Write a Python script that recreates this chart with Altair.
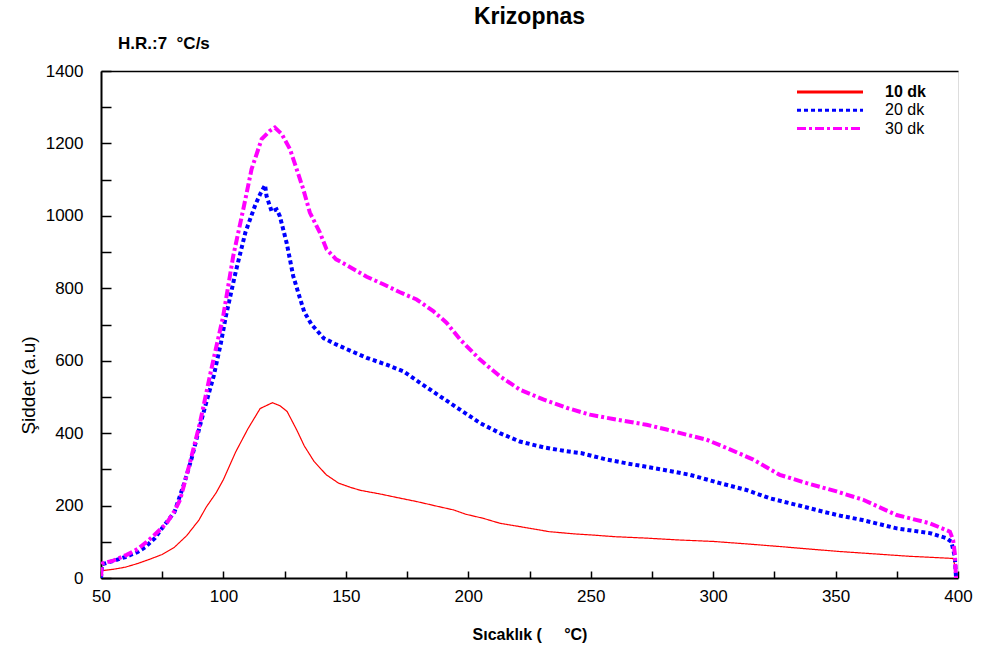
import altair as alt
import pandas as pd

F = "Liberation Sans"

series_names = ["10 dk", "20 dk", "30 dk"]
series_colors = ["#ff0000", "#0000ff", "#ff00ff"]
series_widths = [1.2, 4, 4]

x10 = [50, 55, 60, 65, 70, 75, 80, 85, 90, 93, 97, 100, 105, 110, 115, 120, 123, 126, 130, 133,
       137, 142, 147, 152, 156, 164, 171, 179, 188, 194, 199, 206, 213, 221, 227, 233, 243, 252,
       260, 273, 286, 300, 314, 327, 341, 352, 365, 380, 398, 400]
y10 = [20, 24, 30, 40, 52, 65, 85, 117, 160, 196, 235, 272, 348, 412, 468, 484, 476, 460, 408, 365,
       322, 285, 262, 250, 242, 232, 222, 211, 197, 188, 176, 165, 151, 142, 135, 128, 122, 118,
       114, 110, 105, 101, 94, 87, 79, 73, 67, 60, 54, 0]

x20 = [50, 50.5, 54, 60, 65, 68, 72, 75, 80, 84, 87, 90, 93, 96, 99, 101, 105, 109, 113, 115,
       117, 117.6, 119.7, 121.7, 123, 125.8, 128.5, 131, 133, 136, 141, 146, 149, 158.5, 166.6,
       173.4, 180.3, 188.4, 196.6, 204.8, 212.9, 221, 230.6, 240, 246, 256.5, 266, 279.6, 290.5,
       302.7, 313.6, 323.2, 334, 345, 352, 361, 375, 388.5, 395.3, 397.3, 398.7, 399.2]
y20 = [0, 38, 45, 58, 72, 85, 110, 138, 182, 262, 330, 410, 485, 557, 650, 723, 845, 955, 1030, 1060,
       1085, 1055, 1012, 1018, 1000, 926, 834, 778, 735, 700, 662, 645, 636, 608, 589,
       571, 539, 502, 465, 428, 400, 377, 361, 350, 345, 327, 315, 299, 285,
       262, 243, 220, 202, 183, 172, 160, 137, 124, 110, 100, 59, 0]

x30 = [50, 50.5, 55, 60.5, 65, 68.7, 72, 76.8, 80, 82.3, 86, 90.4, 95, 99.9, 104, 108.1, 111.5,
       115.6, 119, 121, 123.8, 127.2, 129.9, 132.6, 135.3, 139.4, 142.1, 146, 150, 158.5, 165.3,
       172.1, 178.9, 185.7, 191.1, 196.6, 204.8, 212.9, 221.1, 230.6, 240.1, 249.7, 259.2, 272.8,
       281, 289, 297.3, 305.5, 316.4, 327.2, 338.2, 350.4, 361.3, 374.9, 388.5, 396.7, 398, 398.7, 399.2]
y30 = [5, 40, 48, 64, 80, 100, 120, 151, 185, 216, 310, 428, 575, 723, 889, 1018, 1129,
       1212, 1235, 1244, 1226, 1184, 1129, 1074, 1009, 954, 908, 880, 865, 832, 811,
       789, 769, 737, 705, 659, 603, 557, 520, 493, 470, 451, 439, 423,
       410, 396, 382, 359, 327, 285, 262, 239, 216, 174, 151, 128, 105, 68, 0]

x_label_values = [50, 100, 150, 200, 250, 300, 350, 400]
x_tick_values = list(range(50, 401, 25))
y_label_values = [0, 200, 400, 600, 800, 1000, 1200, 1400]
y_tick_values = list(range(0, 1401, 100))

title_text = "Krizopnas"
subtitle_text = "H.R.:7 \u00a0°C/s"
x_title = "Sıcaklık (" + "\u00a0" * 5 + "°C)"
y_title = "Şiddet (a.u)"

rows = []
for name, xs, ys in zip(series_names, [x10, x20, x30], [y10, y20, y30]):
    for i, (a, b) in enumerate(zip(xs, ys)):
        rows.append({"series": name, "T": a, "I": b, "order": i})
df = pd.DataFrame(rows)

W, H = 857, 507

xscale = alt.Scale(domain=[50, 400], nice=False, zero=False)
yscale = alt.Scale(domain=[0, 1400], nice=False, zero=False)

legend = alt.Legend(
    title=None, orient="none", legendX=721, legendY=13, padding=0,
    symbolType="M-6,0H6", symbolSize=121, symbolStrokeWidth=3,
    labelFont=F, labelFontSize=16, labelColor="black", labelOffset=47,
    rowPadding=2.3,
    labelFontWeight=alt.ExprRef(expr="datum.label == '10 dk' ? 'bold' : 'normal'"),
)

color = alt.Color("series:N", scale=alt.Scale(domain=series_names, range=series_colors),
                  legend=legend)
dash = alt.StrokeDash("series:N", scale=alt.Scale(
    domain=series_names, range=[[1, 0], [4, 3], [9, 3, 3, 3]]), legend=legend)

x_axis = alt.Axis(
    values=x_label_values, ticks=False, tickSize=0, grid=False, labelFlush=False,
    domainColor="black", domainWidth=2,
    labelFont=F, labelFontSize=17, labelColor="black", labelPadding=10,
    title=x_title, titleFont=F, titleFontSize=16, titleFontWeight="bold",
    titleColor="black", titleX=W / 2, titleY=56, titleBaseline="middle",
    titleAlign="center")
y_axis = alt.Axis(
    values=y_label_values, format="d", ticks=False, tickSize=0, grid=False, labelFlush=False,
    domainColor="black", domainWidth=2,
    labelFont=F, labelFontSize=17, labelColor="black", labelPadding=18,
    title=y_title, titleFont=F, titleFontSize=19, titleFontWeight="normal",
    titleColor="black", titleX=-73, titleY=314, titleBaseline="middle",
    titleAlign="center", titleAngle=270)

layers = []
for k, (name, w) in enumerate(zip(series_names, series_widths)):
    enc = dict(
        x=alt.X("T:Q", scale=xscale, axis=x_axis if k == 0 else None),
        y=alt.Y("I:Q", scale=yscale, axis=y_axis if k == 0 else None),
        color=color, strokeDash=dash, order="order:Q",
    )
    layers.append(
        alt.Chart(df).transform_filter(alt.datum.series == name)
        .mark_line(clip=True, strokeWidth=w).encode(**enc)
    )

# inward-pointing ticks (bottom and left), drawn by offset axes
tick_layer = alt.Chart(df).mark_line(opacity=0).encode(
    x=alt.X("T:Q", scale=xscale, axis=alt.Axis(
        orient="top", offset=-H, values=x_tick_values, labels=False, domain=False,
        ticks=True, tickSize=7, tickWidth=1.5, tickColor="black", grid=False, title=None)),
    y=alt.Y("I:Q", scale=yscale, axis=alt.Axis(
        orient="right", offset=-W, values=y_tick_values, labels=False, domain=False,
        ticks=True, tickSize=10, tickWidth=1.5, tickColor="black", grid=False, title=None)),
    detail="series:N",
)

# black top border line
top_layer = alt.Chart(df).mark_line(opacity=0).encode(
    x=alt.X("T:Q", scale=xscale, axis=alt.Axis(
        orient="top", labels=False, ticks=False, domain=True, domainColor="black",
        domainWidth=1.5, grid=False, title=None)),
    y=alt.Y("I:Q", scale=yscale, axis=None),
    detail="series:N",
)

sub = alt.Chart(pd.DataFrame({"t": [subtitle_text]})).mark_text(
    align="left", baseline="middle", font=F, fontSize=17, fontWeight="bold", color="black"
).encode(x=alt.value(17), y=alt.value(-27), text="t:N")

chart = alt.layer(*layers, tick_layer, top_layer, sub).resolve_axis(
    x="independent", y="independent"
).properties(
    width=W, height=H,
    padding={"left": 101, "top": 71, "right": 23, "bottom": 75},
    autosize=alt.AutoSizeParams(type="none"),
    title=alt.TitleParams(title_text, font=F, fontSize=23, fontWeight="bold",
                          color="black", anchor="middle", offset=6),
).configure_view(stroke="#8c8c8c", strokeWidth=1.5).configure(background="white")

chart.save("out.html", embed_options={"renderer": "svg", "actions": False})
